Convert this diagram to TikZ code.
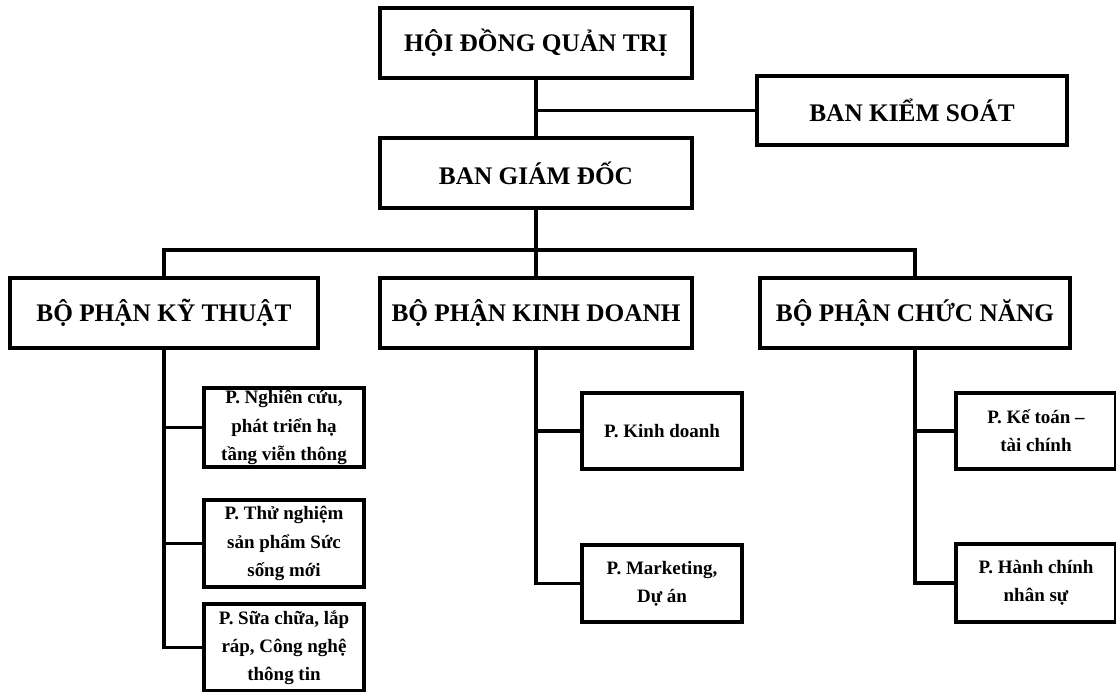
\documentclass[tikz,border=0pt]{standalone}
\usepackage{fontspec}
\setmainfont{Liberation Serif}
\tikzset{
  khung/.style={draw, line width=2.6pt, fill=white, align=center, font=\bfseries\fontsize{18}{22}\selectfont,
    minimum width=7.8cm, minimum height=1.75cm, inner sep=2pt},
  phong/.style={draw, line width=2.6pt, fill=white, align=center, font=\bfseries\fontsize{13.5}{20}\selectfont,
    minimum width=4cm, minimum height=1.95cm, inner sep=1pt},
  noi/.style={line width=2.6pt, line cap=rect}
}
\begin{document}
\begin{tikzpicture}[x=0.025cm, y=-0.025cm]
  \useasboundingbox (0,0) rectangle (1116,691);
  % cap tren
  \node[khung] (hdqt) at (536,43) {HỘI ĐỒNG QUẢN TRỊ};
  \node[khung, minimum width=7.75cm, minimum height=1.72cm] (bks) at (912,110.5) {BAN KIỂM SOÁT};
  \node[khung] (bgd) at (536,173) {BAN GIÁM ĐỐC};
  \coordinate (nhanh) at (536,250);
  % cac bo phan
  \node[khung, minimum width=7.7cm] (bpkt) at (164,313) {BỘ PHẬN KỸ THUẬT};
  \node[khung] (bpkd) at (536,313) {BỘ PHẬN KINH DOANH};
  \node[khung, minimum width=7.75cm] (bpcn) at (915,313) {BỘ PHẬN CHỨC NĂNG};
  % cac phong
  \node[phong, minimum height=1.98cm] (nc) at (284,427.5) {P. Nghiên cứu,\\ phát triển hạ\\ tầng viễn thông};
  \node[phong, minimum height=2.17cm] (tn) at (284,543.5) {P. Thử nghiệm\\ sản phẩm Sức\\ sống mới};
  \node[phong, minimum height=2.17cm] (sc) at (284,647.5) {P. Sữa chữa, lắp\\ ráp, Công nghệ\\ thông tin};
  \node[phong, minimum height=1.9cm] (kd) at (662,431) {P. Kinh doanh};
  \node[phong, minimum height=1.93cm] (mk) at (662,583.5) {P. Marketing,\\ Dự án};
  \node[phong, minimum height=1.9cm] (kt) at (1036,431) {P. Kế toán --\\ tài chính};
  \node[phong, minimum height=1.95cm] (hc) at (1036,583) {P. Hành chính\\ nhân sự};
  % duong noi
  \draw[noi] (hdqt.south) -- (bgd.north);
  \draw[noi] (bks.west) -- (bks.west -| hdqt.south);
  \draw[noi] (bgd.south) -- (nhanh) -- (bpkd.north);
  \draw[noi] (bpkt.north) |- (nhanh) -| (bpcn.north);
  \foreach \bp/\p in {bpkt/nc, bpkt/tn, bpkt/sc, bpkd/kd, bpkd/mk, bpcn/kt, bpcn/hc} {
      \draw[noi] (\bp.south) |- (\p.west);
  }
\end{tikzpicture}
\end{document}
